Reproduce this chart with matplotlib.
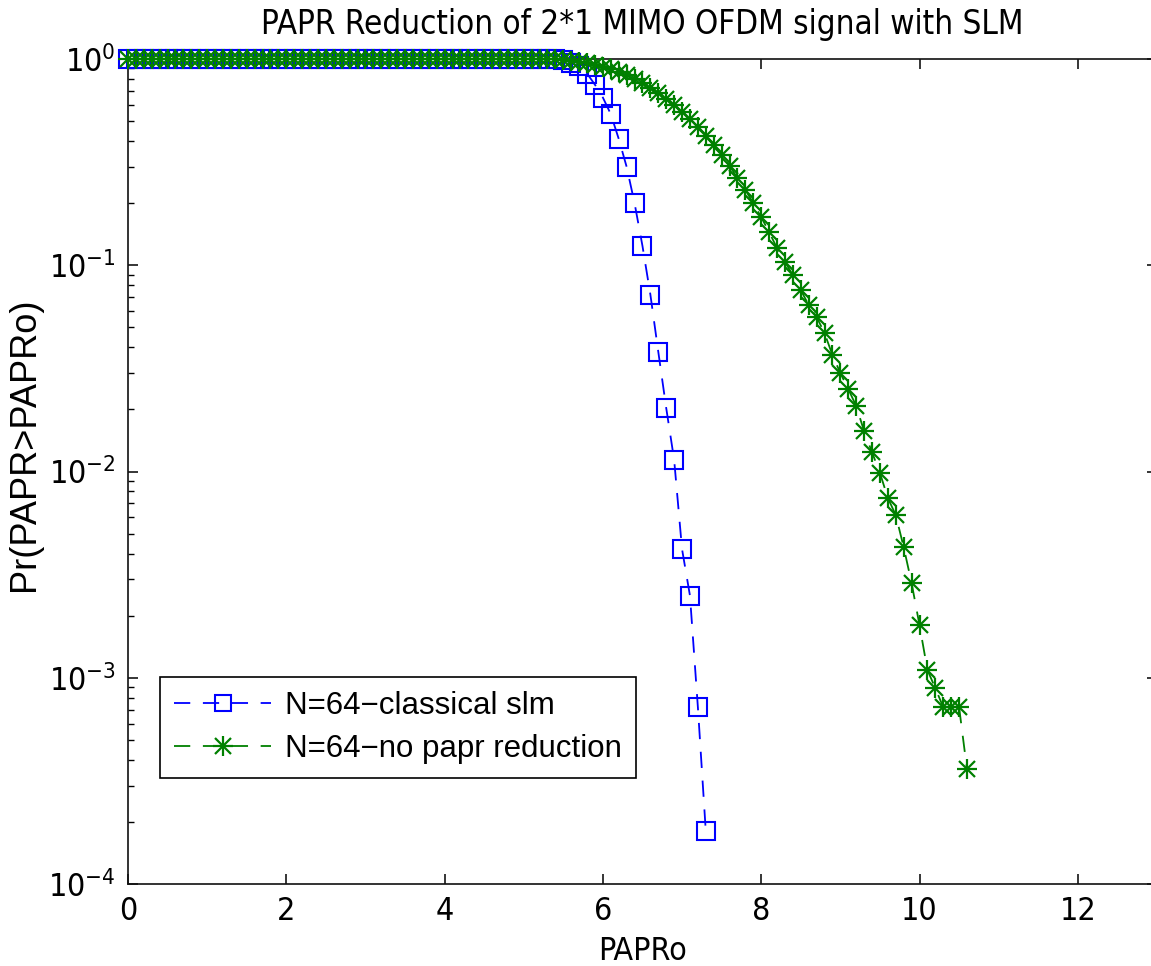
import numpy as np
import matplotlib
matplotlib.use("Agg")
import matplotlib.pyplot as plt
from matplotlib.ticker import FixedLocator, FixedFormatter, LogLocator, NullFormatter
from matplotlib.lines import Line2D
from matplotlib.legend_handler import HandlerTuple

# ---- data ----
x_slm = np.round(np.arange(0, 7.35, 0.1), 1)
p_slm = [1.0, 1.0, 1.0, 1.0, 1.0, 1.0, 1.0, 1.0, 1.0, 1.0,
         1.0, 1.0, 1.0, 1.0, 1.0, 1.0, 1.0, 1.0, 1.0, 1.0,
         1.0, 1.0, 1.0, 1.0, 1.0, 1.0, 1.0, 1.0, 1.0, 1.0,
         1.0, 1.0, 1.0, 1.0, 1.0, 1.0, 1.0, 1.0, 1.0, 1.0,
         1.0, 1.0, 1.0, 1.0, 1.0, 1.0, 1.0, 1.0, 1.0, 1.0,
         1.0, 1.0, 1.0, 1.0, 1.0,
         0.99, 0.96, 0.92, 0.85, 0.75,
         0.65, 0.54, 0.41, 0.30, 0.20,
         0.124, 0.072, 0.038, 0.0203, 0.0114,
         0.0042, 0.0025, 0.00072, 0.00018]

x_nored = np.round(np.arange(0, 10.65, 0.1), 1)
p_nored = [1.0, 1.0, 1.0, 1.0, 1.0, 1.0, 1.0, 1.0, 1.0, 1.0,
           1.0, 1.0, 1.0, 1.0, 1.0, 1.0, 1.0, 1.0, 1.0, 1.0,
           1.0, 1.0, 1.0, 1.0, 1.0, 1.0, 1.0, 1.0, 1.0, 1.0,
           1.0, 1.0, 1.0, 1.0, 1.0, 1.0, 1.0, 1.0, 1.0, 1.0,
           1.0, 1.0, 1.0, 1.0, 1.0, 1.0, 1.0, 1.0, 1.0, 1.0,
           1.0, 1.0, 1.0, 1.0, 1.0,
           0.989, 0.978, 0.967, 0.956, 0.935,
           0.914, 0.895, 0.865, 0.836, 0.800,
           0.765, 0.723, 0.684, 0.640, 0.598,
           0.553, 0.512, 0.468, 0.423, 0.383,
           0.342, 0.303, 0.265, 0.232, 0.200,
           0.171, 0.145, 0.121, 0.1037, 0.0897,
           0.0758, 0.0641, 0.0561, 0.0469, 0.0367,
           0.0300, 0.0251, 0.0208, 0.0157, 0.0124,
           0.00984, 0.00744, 0.00615, 0.00430, 0.00288,
           0.00180, 0.00109, 0.00089, 0.00072, 0.00072,
           0.00072, 0.00036]

labels = ["N=64\u2212classical slm", "N=64\u2212no papr reduction"]
title = "PAPR Reduction of 2*1 MIMO OFDM signal with SLM"
xlabel = "PAPRo"
ylabel = "Pr(PAPR>PAPRo)"
xticks = [0, 2, 4, 6, 8, 10, 12]
yticks = [1e-4, 1e-3, 1e-2, 1e-1, 1e0]
yticklabels = [r"$\mathregular{10^{-4}}$", r"$\mathregular{10^{-3}}$",
               r"$\mathregular{10^{-2}}$", r"$\mathregular{10^{-1}}$",
               r"$\mathregular{10^{0}}$"]

plt.rcParams["font.family"] = ["DejaVu Sans"]
plt.rcParams["font.stretch"] = "condensed"
REG = ["Liberation Sans", "DejaVu Sans"]
FS = 23

fig = plt.figure(figsize=(11.51, 9.66), dpi=100)
L, R, T, B = 128, 1157, 59, 884
ax = fig.add_axes([L / 1151, (966 - B) / 966, (R - L) / 1151, (B - T) / 966])

BLUE = "#0000ff"
GREEN = "#008000"
dash = (0, (9, 7))
ax.plot(x_slm, p_slm, color=BLUE, linestyle=dash, linewidth=1.3,
        marker="s", markersize=12.5, markerfacecolor="none",
        markeredgecolor=BLUE, markeredgewidth=1.5, clip_on=False, zorder=3)
ax.plot(x_nored, p_nored, color=GREEN, linestyle=dash, linewidth=1.3,
        clip_on=False, zorder=3)
# MATLAB-style asterisk markers (plus + x)
ax.plot(x_nored, p_nored, linestyle="none", marker="+", markersize=15,
        markeredgecolor=GREEN, markeredgewidth=1.6, clip_on=False, zorder=4)
ax.plot(x_nored, p_nored, linestyle="none", marker="x", markersize=11,
        markeredgecolor=GREEN, markeredgewidth=1.6, clip_on=False, zorder=4)

ax.set_yscale("log")
ax.set_xlim(0, (R - L) / 79.15)
ax.set_ylim(1e-4, 1e0)

ax.xaxis.set_major_locator(FixedLocator(xticks))
ax.set_xticklabels([str(t) for t in xticks])
ax.yaxis.set_major_locator(FixedLocator(yticks))
ax.yaxis.set_major_formatter(FixedFormatter(yticklabels))
ax.yaxis.set_minor_locator(LogLocator(base=10, subs=np.arange(2, 10) * 1.0, numticks=20))
ax.yaxis.set_minor_formatter(NullFormatter())

ax.tick_params(axis="both", which="major", direction="in", length=7.2,
               width=1.1, top=True, right=True, labelsize=FS, pad=9)
ax.tick_params(axis="y", which="minor", direction="in", length=4,
               width=1.0, right=True)
for s in ax.spines.values():
    s.set_linewidth(1.2)
    s.set_color("#111111")

ax.set_title(title, fontsize=23.8, pad=18)
ax.set_xlabel(xlabel, fontsize=FS, labelpad=6)
ax.set_ylabel(ylabel, fontsize=26, family=REG, stretch="normal")
ax.yaxis.set_label_coords((42 - L) / (R - L), (B - 444) / (B - T))

h1 = Line2D([], [], color=BLUE, linestyle=dash, linewidth=1.3, marker="s",
            markersize=11, markerfacecolor="none", markeredgecolor=BLUE,
            markeredgewidth=1.5)
h2a = Line2D([], [], color=GREEN, linestyle=dash, linewidth=1.3)
h2b = Line2D([], [], linestyle="none", marker="+", markersize=15,
             markeredgecolor=GREEN, markeredgewidth=1.6)
h2c = Line2D([], [], linestyle="none", marker="x", markersize=11,
             markeredgecolor=GREEN, markeredgewidth=1.6)
leg = ax.legend([h1, (h2a, h2b, h2c)], labels, loc="upper left",
                bbox_to_anchor=(32 / (R - L), (B - 677) / (B - T)),
                borderaxespad=0, fancybox=False, framealpha=1,
                edgecolor="black", handlelength=3.1, handletextpad=0.45,
                labelspacing=0.42, borderpad=0.45,
                handler_map={tuple: HandlerTuple(ndivide=1)},
                prop={"family": REG, "size": 22.5})
leg.get_frame().set_linewidth(1.2)

fig.savefig("out.png", dpi=100)
